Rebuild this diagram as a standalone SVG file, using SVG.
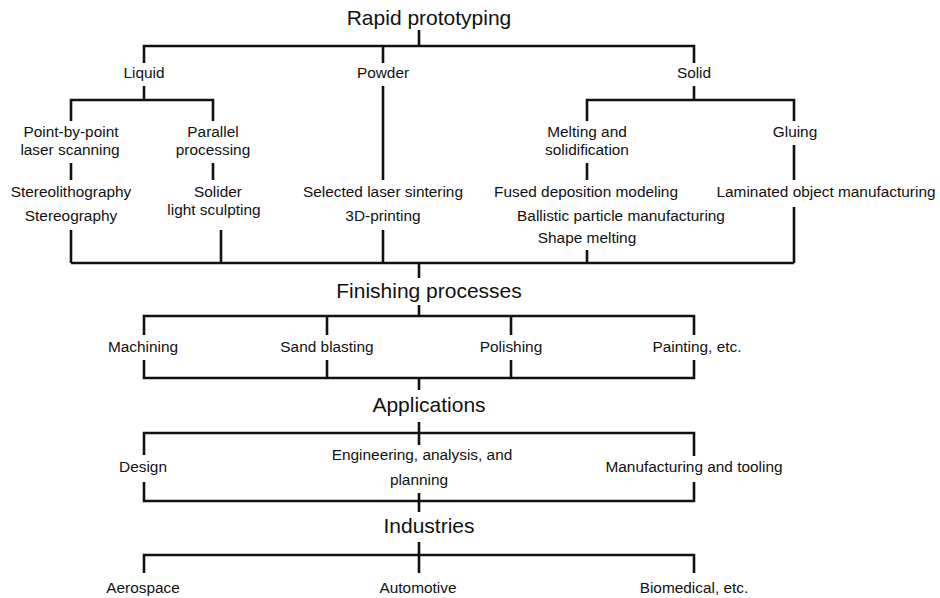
<svg xmlns="http://www.w3.org/2000/svg" width="940" height="598" viewBox="0 0 940 598">
  <style>
    text { font-family: "Liberation Sans", Arial, Helvetica, sans-serif; fill: #111; text-anchor: middle; }
    .lbl { font-size: 15.4px; }
    .hdr { font-size: 21px; }
    .wire { fill: none; stroke: #111; stroke-width: 2.6; stroke-linejoin: miter; stroke-linecap: butt; }
  </style>
  <rect width="940" height="598" fill="#fff"/>

  <!-- connectors -->
  <g id="connectors" class="wire">
    <!-- rapid prototyping tree -->
    <path d="M419 30 V46"/>
    <path d="M144 63 V46 H694 V63"/>
    <path d="M383 46 V63"/>
    <path d="M144 86 V100"/>
    <path d="M71 121 V100 H213 V121"/>
    <path d="M694 86 V100"/>
    <path d="M587 121 V100 H794 V121"/>
    <path d="M383 86 V180"/>
    <path d="M383 230 V263"/>
    <path d="M71 163 V180"/>
    <path d="M71 230 V263"/>
    <path d="M213 163 V180"/>
    <path d="M221 230 V263"/>
    <path d="M587 163 V180"/>
    <path d="M587 250 V263"/>
    <path d="M794 145 V180"/>
    <path d="M794 207 V263"/>
    <path d="M71 263 H794"/>
    <path d="M419 263 V278"/>
    <!-- finishing processes -->
    <path d="M419 305 V316"/>
    <path d="M144 335 V316 H694 V335"/>
    <path d="M327 316 V335"/>
    <path d="M511 316 V335"/>
    <path d="M144 360 V378 H694 V360"/>
    <path d="M327 360 V378"/>
    <path d="M511 360 V378"/>
    <path d="M419 378 V390"/>
    <!-- applications -->
    <path d="M419 422 V445"/>
    <path d="M144 455 V433 H694 V456"/>
    <path d="M144 482 V501 H694 V482"/>
    <path d="M419 493 V512"/>
    <!-- industries -->
    <path d="M419 542 V573"/>
    <path d="M144 573 V555 H694 V573"/>
  </g>

  <g id="rapid-prototyping"><text class="hdr" x="429" y="25">Rapid prototyping</text></g>
  <g id="liquid"><text class="lbl" x="144" y="78">Liquid</text></g>
  <g id="powder"><text class="lbl" x="383" y="78">Powder</text></g>
  <g id="solid"><text class="lbl" x="694" y="78">Solid</text></g>

  <g id="point-by-point">
    <text class="lbl" x="71" y="137">Point-by-point</text>
    <text class="lbl" x="70" y="155">laser scanning</text>
  </g>
  <g id="parallel">
    <text class="lbl" x="213" y="137">Parallel</text>
    <text class="lbl" x="213" y="155">processing</text>
  </g>
  <g id="melting">
    <text class="lbl" x="587" y="137">Melting and</text>
    <text class="lbl" x="587" y="155">solidification</text>
  </g>
  <g id="gluing"><text class="lbl" x="795" y="137">Gluing</text></g>

  <g id="stereolithography">
    <text class="lbl" x="71" y="197">Stereolithography</text>
    <text class="lbl" x="71" y="221">Stereography</text>
  </g>
  <g id="solider">
    <text class="lbl" x="218" y="197">Solider</text>
    <text class="lbl" x="214" y="215">light sculpting</text>
  </g>
  <g id="sintering">
    <text class="lbl" x="383" y="197">Selected laser sintering</text>
    <text class="lbl" x="383" y="221">3D-printing</text>
  </g>
  <g id="fused-deposition">
    <text class="lbl" x="586" y="197">Fused deposition modeling</text>
    <text class="lbl" x="621" y="221">Ballistic particle manufacturing</text>
    <text class="lbl" x="587" y="243">Shape melting</text>
  </g>
  <g id="laminated"><text class="lbl" x="826" y="197">Laminated object manufacturing</text></g>

  <g id="finishing"><text class="hdr" x="429" y="298">Finishing processes</text></g>
  <g id="machining"><text class="lbl" x="143" y="352">Machining</text></g>
  <g id="sand-blasting"><text class="lbl" x="327" y="352">Sand blasting</text></g>
  <g id="polishing"><text class="lbl" x="511" y="352">Polishing</text></g>
  <g id="painting"><text class="lbl" x="697" y="352">Painting, etc.</text></g>

  <g id="applications"><text class="hdr" x="429" y="412">Applications</text></g>
  <g id="design"><text class="lbl" x="143" y="472">Design</text></g>
  <g id="engineering">
    <text class="lbl" x="422" y="460">Engineering, analysis, and</text>
    <text class="lbl" x="419" y="485">planning</text>
  </g>
  <g id="manufacturing"><text class="lbl" x="694" y="472">Manufacturing and tooling</text></g>

  <g id="industries"><text class="hdr" x="429" y="533">Industries</text></g>
  <g id="aerospace"><text class="lbl" x="143" y="593">Aerospace</text></g>
  <g id="automotive"><text class="lbl" x="418" y="593">Automotive</text></g>
  <g id="biomedical"><text class="lbl" x="694" y="593">Biomedical, etc.</text></g>
</svg>
